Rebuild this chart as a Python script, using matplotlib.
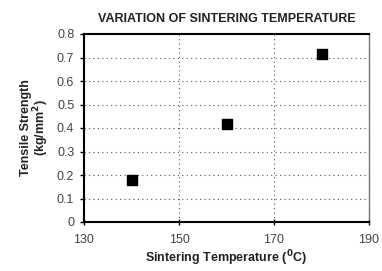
import matplotlib.pyplot as plt

temps = [140, 160, 180]
strength = [0.18, 0.415, 0.715]
xticks = [130, 150, 170, 190]
yticks = [0, 0.1, 0.2, 0.3, 0.4, 0.5, 0.6, 0.7, 0.8]

plt.rcParams['font.family'] = ['Liberation Sans', 'DejaVu Sans']

fig = plt.figure(figsize=(3.82, 2.71), dpi=100)
ax = fig.add_axes([84 / 382, 1 - 222 / 271, 285 / 382, 188 / 271])

ax.scatter(temps, strength, marker='s', s=60, color='black', zorder=3)

ax.set_xlim(130, 190)
ax.set_ylim(0, 0.8)
ax.set_xticks(xticks)
ax.set_yticks(yticks)
ax.set_yticklabels(['0' if v == 0 else f'{v:.1f}' for v in yticks])
ax.grid(True, linestyle=(0, (1, 3)), color='#555555', linewidth=0.8)
ax.tick_params(labelsize=9, colors='#444444', length=3, width=1, pad=4)
ax.tick_params(axis='x', direction='inout', length=5, pad=6)
ax.tick_params(axis='both', color='black')

for side in ['left', 'bottom', 'top']:
    ax.spines[side].set_linewidth(1.5)
ax.spines['right'].set_linewidth(1.0)
ax.spines['right'].set_color('#777777')

ax.set_title('VARIATION OF SINTERING TEMPERATURE', fontsize=9,
             fontweight='bold', color='#222222', pad=9)
ax.set_xlabel('Sintering Temperature ($\\mathbf{^{0}}$C)', fontsize=9,
              fontweight='bold', color='#222222', labelpad=2)
ax.set_ylabel('Tensile Strength\n(kg/mm$\\mathbf{^{2}}$)', fontsize=9,
              fontweight='bold', color='#222222', labelpad=4, linespacing=1.0)

fig.savefig('out.png', dpi=100)
